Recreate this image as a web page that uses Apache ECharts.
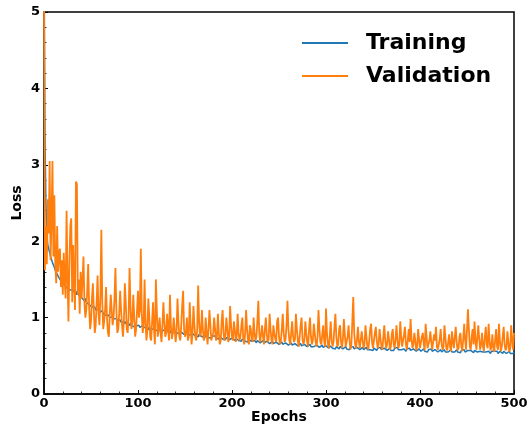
<!DOCTYPE html>
<html>
<head>
<meta charset="utf-8">
<script src="https://cdn.jsdelivr.net/npm/echarts@6/dist/echarts.min.js"></script>
<style>
  html, body { margin: 0; padding: 0; background: #fff; }
  #chart { width: 527px; height: 425px; }
</style>
</head>
<body>
<div id="chart"></div>
<script>
// Loss per epoch (index = epoch, 0..500)
const trainingLoss = [
  6.0, 3.4, 2.5, 2.1, 1.95, 1.9, 1.85, 1.8, 1.78, 1.72, 1.7, 1.66, 1.62, 1.6, 1.57, 1.55, 1.52, 1.5, 1.48, 1.47,
  1.45, 1.44, 1.42, 1.41, 1.4, 1.38, 1.4, 1.37, 1.36, 1.38, 1.35, 1.36, 1.33, 1.38, 1.34, 1.3, 1.33, 1.29, 1.31, 1.27,
  1.26, 1.28, 1.24, 1.22, 1.25, 1.2, 1.19, 1.22, 1.17, 1.16, 1.18, 1.14, 1.15, 1.12, 1.14, 1.1, 1.12, 1.09, 1.11, 1.07,
  1.08, 1.06, 1.09, 1.05, 1.04, 1.07, 1.03, 1.05, 1.01, 1.03, 1.0, 1.02, 0.99, 1.01, 0.98, 1.0, 0.97, 0.99, 0.96, 0.98,
  0.95, 0.97, 0.94, 0.96, 0.93, 0.95, 0.92, 0.95, 0.91, 0.93, 0.92, 0.9, 0.93, 0.89, 0.91, 0.9, 0.88, 0.92, 0.89, 0.9,
  0.88, 0.9, 0.87, 0.89, 0.86, 0.9, 0.87, 0.88, 0.85, 0.87, 0.86, 0.84, 0.88, 0.85, 0.86, 0.83, 0.85, 0.84, 0.86, 0.83,
  0.85, 0.82, 0.84, 0.83, 0.85, 0.82, 0.83, 0.81, 0.84, 0.82, 0.8, 0.83, 0.81, 0.82, 0.8, 0.83, 0.81, 0.8, 0.82, 0.79,
  0.81, 0.8, 0.82, 0.79, 0.8, 0.78, 0.81, 0.79, 0.8, 0.78, 0.8, 0.77, 0.79, 0.78, 0.8, 0.77, 0.78, 0.76, 0.79, 0.77,
  0.78, 0.76, 0.78, 0.77, 0.75, 0.78, 0.76, 0.77, 0.75, 0.77, 0.76, 0.74, 0.77, 0.75, 0.76, 0.74, 0.76, 0.75, 0.73, 0.76,
  0.75, 0.74, 0.76, 0.73, 0.75, 0.74, 0.72, 0.75, 0.73, 0.74, 0.72, 0.74, 0.73, 0.71, 0.74, 0.72, 0.73, 0.71, 0.73, 0.72,
  0.73, 0.71, 0.72, 0.7, 0.73, 0.71, 0.72, 0.7, 0.72, 0.71, 0.69, 0.72, 0.7, 0.71, 0.69, 0.71, 0.7, 0.68, 0.71, 0.69,
  0.7, 0.69, 0.71, 0.68, 0.7, 0.69, 0.67, 0.7, 0.68, 0.69, 0.67, 0.69, 0.68, 0.7, 0.67, 0.68, 0.66, 0.69, 0.67, 0.68,
  0.66, 0.68, 0.67, 0.69, 0.66, 0.67, 0.65, 0.68, 0.66, 0.67, 0.65, 0.67, 0.66, 0.68, 0.65, 0.66, 0.64, 0.67, 0.65, 0.66,
  0.64, 0.66, 0.65, 0.67, 0.64, 0.65, 0.63, 0.66, 0.64, 0.65, 0.63, 0.65, 0.64, 0.66, 0.63, 0.64, 0.62, 0.65, 0.63, 0.64,
  0.62, 0.64, 0.63, 0.65, 0.62, 0.63, 0.64, 0.62, 0.63, 0.61, 0.64, 0.62, 0.63, 0.61, 0.63, 0.62, 0.64, 0.61, 0.62, 0.6,
  0.63, 0.61, 0.62, 0.6, 0.63, 0.61, 0.62, 0.6, 0.62, 0.61, 0.59, 0.62, 0.6, 0.61, 0.59, 0.62, 0.6, 0.61, 0.59, 0.61,
  0.6, 0.62, 0.59, 0.61, 0.6, 0.58, 0.61, 0.59, 0.6, 0.62, 0.59, 0.6, 0.58, 0.61, 0.59, 0.6, 0.58, 0.6, 0.59, 0.61,
  0.58, 0.6, 0.59, 0.61, 0.58, 0.59, 0.6, 0.58, 0.6, 0.59, 0.57, 0.6, 0.58, 0.59, 0.57, 0.6, 0.58, 0.59, 0.61, 0.58,
  0.59, 0.57, 0.6, 0.58, 0.59, 0.57, 0.59, 0.58, 0.6, 0.57, 0.58, 0.59, 0.57, 0.6, 0.58, 0.59, 0.61, 0.58, 0.6, 0.57,
  0.58, 0.6, 0.57, 0.59, 0.58, 0.56, 0.59, 0.57, 0.58, 0.6, 0.57, 0.58, 0.56, 0.59, 0.57, 0.58, 0.56, 0.58, 0.57, 0.59,
  0.57, 0.56, 0.58, 0.57, 0.59, 0.56, 0.58, 0.57, 0.55, 0.58, 0.56, 0.57, 0.59, 0.56, 0.57, 0.55, 0.58, 0.56, 0.57, 0.55,
  0.57, 0.56, 0.58, 0.55, 0.57, 0.56, 0.58, 0.55, 0.57, 0.56, 0.55, 0.57, 0.56, 0.58, 0.55, 0.56, 0.57, 0.55, 0.56, 0.58,
  0.55, 0.57, 0.56, 0.54, 0.57, 0.55, 0.56, 0.58, 0.55, 0.56, 0.54, 0.57, 0.55, 0.56, 0.57, 0.55, 0.56, 0.54, 0.57, 0.55,
  0.56, 0.55, 0.57, 0.54, 0.56, 0.55, 0.57, 0.55, 0.54, 0.56, 0.55, 0.57, 0.54, 0.56, 0.55, 0.53, 0.56, 0.55, 0.54, 0.56,
  0.55, 0.54, 0.56, 0.53, 0.55, 0.56, 0.54, 0.55, 0.53, 0.56, 0.54, 0.55, 0.53, 0.55, 0.54, 0.56, 0.53, 0.55, 0.54, 0.53, 0.55
];

const validationLoss = [
  5.3, 1.62, 2.2, 1.7, 2.55, 2.1, 3.05, 1.75, 2.3, 3.05, 1.8, 2.6, 1.7, 1.45, 2.2, 1.6, 1.85, 1.9, 1.4, 1.75,
  1.3, 1.85, 1.5, 1.25, 2.4, 1.55, 0.95, 1.7, 2.2, 2.3, 1.2, 1.95, 1.45, 1.1, 2.78, 2.75, 1.3, 1.5, 1.05, 1.6,
  1.25, 1.5, 1.8, 1.2, 1.0, 1.1, 1.35, 1.7, 1.15, 0.85, 0.95, 1.25, 1.45, 1.1, 0.8, 0.9, 1.2, 1.55, 1.05, 0.9,
  1.3, 2.15, 1.2, 0.85, 0.95, 1.1, 1.4, 1.0, 0.8, 0.75, 1.05, 1.3, 1.1, 0.9, 1.0, 1.25, 1.65, 1.1, 0.8, 0.85,
  1.05, 1.35, 1.1, 0.9, 0.75, 0.95, 1.45, 1.2, 0.85, 0.8, 1.0, 1.65, 1.15, 0.85, 0.95, 1.3, 1.0, 0.75, 0.85, 1.1,
  1.35, 1.0, 1.1, 1.9, 1.05, 0.8, 0.9, 1.5, 0.95, 0.7, 0.85, 1.25, 1.0, 0.75, 0.7, 0.95, 1.2, 0.85, 0.65, 1.5,
  1.1, 0.75, 0.85, 1.0, 0.8, 0.68, 0.9, 1.2, 0.95, 0.75, 0.8, 1.05, 0.85, 0.7, 1.3, 0.9, 0.72, 0.8, 1.0, 0.85,
  0.68, 0.8, 1.25, 0.95, 0.75, 0.7, 0.9, 1.15, 1.35, 0.85, 0.75, 0.8, 1.0, 0.7, 0.75, 1.2, 0.9, 0.65, 0.8, 1.15,
  0.9, 0.75, 0.7, 0.85, 1.42, 0.95, 0.75, 0.8, 1.1, 0.85, 0.7, 0.75, 1.0, 0.8, 0.65, 0.85, 1.1, 0.9, 0.7, 0.68,
  0.8, 1.0, 0.85, 0.7, 0.75, 1.05, 0.8, 0.65, 0.7, 0.95, 1.1, 0.8, 0.7, 0.78, 1.0, 0.85, 0.68, 0.75, 1.15, 0.9,
  0.75, 0.7, 0.95, 0.85, 0.68, 0.75, 1.05, 0.8, 0.7, 0.75, 0.9, 1.0, 0.72, 0.65, 0.8, 1.1, 0.85, 0.7, 0.65, 0.9,
  0.85, 0.72, 0.68, 1.0, 0.8, 0.7, 0.75, 0.95, 1.22, 0.8, 0.68, 0.7, 0.9, 0.75, 0.65, 0.85, 1.0, 0.78, 0.68, 0.72,
  1.05, 0.85, 0.7, 0.65, 0.9, 0.8, 0.72, 0.68, 0.95, 1.0, 0.75, 0.65, 0.7, 0.85, 1.05, 0.8, 0.68, 0.72, 0.9, 1.22,
  0.85, 0.7, 0.65, 0.8, 0.95, 0.75, 0.68, 0.72, 1.05, 0.85, 0.7, 0.62, 0.75, 0.9, 1.0, 0.72, 0.65, 0.7, 0.95, 0.8,
  0.68, 0.62, 0.85, 1.0, 0.75, 0.65, 0.7, 0.92, 0.8, 0.68, 0.62, 0.75, 1.1, 0.85, 0.68, 0.65, 0.78, 0.9, 0.7, 0.62,
  1.12, 0.8, 0.65, 0.6, 0.75, 0.95, 0.7, 0.62, 0.68, 0.88, 1.05, 0.75, 0.62, 0.65, 0.85, 0.9, 0.68, 0.6, 0.72, 0.98,
  0.78, 0.62, 0.6, 0.75, 0.9, 0.7, 0.58, 0.65, 0.95, 1.27, 0.8, 0.65, 0.6, 0.72, 0.88, 0.68, 0.6, 0.62, 0.82, 0.7,
  0.6, 0.65, 0.9, 0.75, 0.62, 0.58, 0.7, 0.85, 0.92, 0.68, 0.6, 0.62, 0.8, 0.88, 0.7, 0.6, 0.65, 0.85, 0.72, 0.62,
  0.58, 0.75, 0.9, 0.7, 0.6, 0.65, 0.82, 0.72, 0.58, 0.62, 0.78, 0.85, 0.65, 0.6, 0.72, 0.9, 0.7, 0.6, 0.65, 0.95,
  0.75, 0.62, 0.6, 0.78, 0.88, 0.65, 0.58, 0.7, 0.85, 0.68, 0.98, 0.72, 0.6, 0.65, 0.8, 0.7, 0.57, 0.62, 0.85, 0.72,
  0.6, 0.58, 0.75, 0.8, 0.65, 0.57, 0.92, 0.75, 0.6, 0.58, 0.7, 0.82, 0.68, 0.58, 0.56, 0.78, 0.7, 0.88, 0.62, 0.58,
  0.6, 0.72, 0.85, 0.65, 0.58, 0.62, 0.9, 0.75, 0.6, 0.57, 0.68, 0.78, 0.62, 0.56, 0.82, 0.7, 0.6, 0.62, 0.88, 0.68,
  0.57, 0.6, 0.75, 0.8, 0.62, 0.56, 0.72, 0.92, 0.7, 0.58, 0.6, 1.11, 0.85, 0.62, 0.58, 0.75, 0.85, 0.65, 0.95, 0.7,
  0.58, 0.6, 0.9, 0.72, 0.58, 0.65, 0.8, 0.62, 0.56, 0.75, 0.88, 0.65, 0.6, 0.92, 0.7, 0.57, 0.62, 0.78, 0.6, 0.55,
  0.72, 0.85, 0.62, 0.58, 0.92, 0.7, 0.56, 0.62, 0.75, 0.88, 0.65, 0.57, 0.6, 0.82, 0.68, 0.55, 0.6, 0.9, 0.7, 0.58, 0.8
];

const seriesNames = ['Training', 'Validation'];
const seriesColors = ['#1f77b4', '#ff7f0e'];
const xTicks = [0, 100, 200, 300, 400, 500];
const yTicks = [0, 1, 2, 3, 4, 5];

const FONT = 'DejaVu Sans';
const toPairs = arr => arr.map((v, i) => [i, v]);

const chart = echarts.init(document.getElementById('chart'), null, { renderer: 'canvas' });

const axisCommon = {
  axisLine: { show: true, onZero: false, lineStyle: { color: '#000', width: 1.5 } },
  axisTick: { show: true, inside: true, length: 4, lineStyle: { color: '#000', width: 1 } },
  minorTick: { show: true, splitNumber: 5, length: 2.5, lineStyle: { color: '#000', width: 0.8 } },
  splitLine: { show: false },
  axisLabel: { color: '#000', fontFamily: FONT, fontWeight: 'bold', fontSize: 13 },
  nameTextStyle: { color: '#000', fontFamily: FONT, fontWeight: 'bold', fontSize: 14 },
  nameMoveOverlap: false
};

chart.setOption({
  animation: false,
  backgroundColor: '#fff',
  grid: {
    left: 44, right: 13, top: 12, bottom: 31,
    containLabel: false, outerBoundsMode: 'none',
    show: true, borderColor: '#000', borderWidth: 1.5, backgroundColor: 'transparent'
  },
  legend: {
    orient: 'vertical',
    left: 297, top: 27,
    itemWidth: 46, itemHeight: 2,
    itemGap: 11,
    icon: 'rect',
    data: seriesNames,
    textStyle: {
      color: '#000', fontFamily: FONT, fontWeight: 'bold', fontSize: 22,
      padding: [0, 0, 0, 13]
    }
  },
  xAxis: Object.assign({}, axisCommon, {
    type: 'value',
    min: xTicks[0], max: xTicks[xTicks.length - 1], interval: 100,
    name: 'Epochs', nameLocation: 'middle', nameGap: 16,
    axisLabel: Object.assign({}, axisCommon.axisLabel, { margin: 3 })
  }),
  yAxis: Object.assign({}, axisCommon, {
    type: 'value',
    min: yTicks[0], max: yTicks[yTicks.length - 1], interval: 1,
    name: 'Loss', nameLocation: 'middle', nameGap: 20,
    axisLabel: Object.assign({}, axisCommon.axisLabel, { margin: 4 })
  }),
  series: [
    {
      name: seriesNames[0], type: 'line', data: toPairs(trainingLoss),
      showSymbol: false, symbol: 'none', clip: true, z: 2,
      lineStyle: { color: seriesColors[0], width: 1.5 },
      itemStyle: { color: seriesColors[0] }
    },
    {
      name: seriesNames[1], type: 'line', data: toPairs(validationLoss),
      showSymbol: false, symbol: 'none', clip: true, z: 3,
      lineStyle: { color: seriesColors[1], width: 1.8 },
      itemStyle: { color: seriesColors[1] }
    }
  ]
});
</script>
</body>
</html>
